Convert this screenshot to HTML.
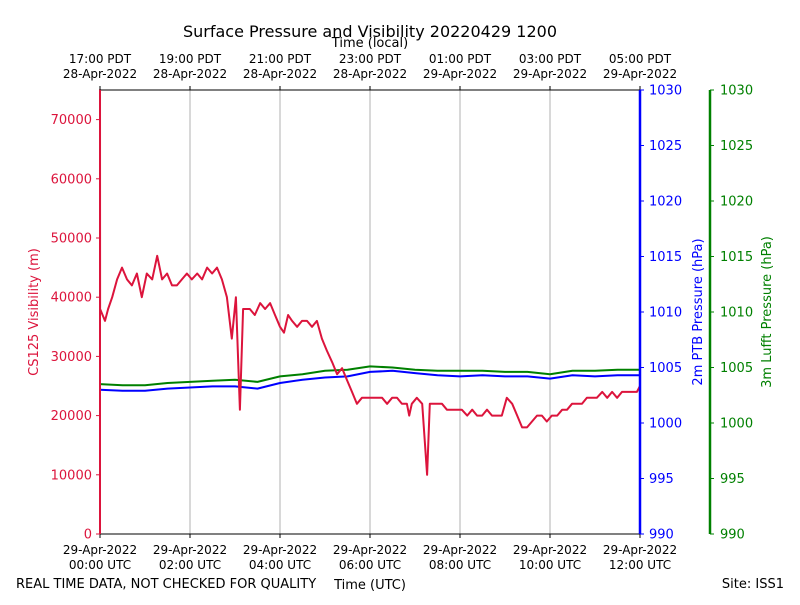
<!DOCTYPE html>
<html><head><meta charset="utf-8"><style>
body{margin:0;background:#fff;}
svg text{font-family:"DejaVu Sans","Liberation Sans",sans-serif;}
</style></head><body>
<svg id="chart" width="800" height="600" xmlns="http://www.w3.org/2000/svg">
<rect width="800" height="600" fill="#fff"/>
<g id="grid"></g><g id="series"></g><g id="axes"></g>
<text x="370" y="37" font-size="16" text-anchor="middle">Surface Pressure and Visibility 20220429 1200</text>
<text x="370" y="47" font-size="13" text-anchor="middle">Time (local)</text>
<text x="370" y="589" font-size="13" text-anchor="middle">Time (UTC)</text>
<text x="16" y="588" font-size="13">REAL TIME DATA, NOT CHECKED FOR QUALITY</text>
<text x="784" y="588" font-size="13" text-anchor="end">Site: ISS1</text>
<text transform="translate(38,312) rotate(-90)" font-size="13" fill="#dc143c" text-anchor="middle">CS125 Visibility (m)</text>
<text transform="translate(702,312) rotate(-90)" font-size="13" fill="blue" text-anchor="middle">2m PTB Pressure (hPa)</text>
<text transform="translate(771,312) rotate(-90)" font-size="13" fill="green" text-anchor="middle">3m Lufft Pressure (hPa)</text>
</svg>
<script>
const visHours=[0,0.001,0.002,0.11,0.18,0.27,0.38,0.49,0.6,0.71,0.82,0.93,1.04,1.16,1.27,1.38,1.49,1.6,1.71,1.82,1.93,2.04,2.16,2.27,2.38,2.49,2.6,2.71,2.82,2.93,3.02,3.11,3.18,3.33,3.44,3.56,3.67,3.78,3.89,4.0,4.09,4.18,4.27,4.38,4.49,4.6,4.71,4.82,4.93,5.04,5.16,5.27,5.38,5.49,5.6,5.71,5.82,5.93,6.04,6.16,6.27,6.38,6.49,6.6,6.71,6.82,6.87,6.93,7.04,7.16,7.27,7.33,7.49,7.6,7.71,7.82,7.93,8.04,8.16,8.27,8.38,8.49,8.6,8.71,8.82,8.93,9.04,9.16,9.27,9.38,9.49,9.6,9.71,9.82,9.93,10.04,10.16,10.27,10.38,10.49,10.6,10.71,10.82,10.93,11.04,11.16,11.27,11.38,11.49,11.6,11.71,11.82,11.93,12.0];
const visValues=[0,75000,38000,36000,38000,40000,43000,45000,43000,42000,44000,40000,44000,43000,47000,43000,44000,42000,42000,43000,44000,43000,44000,43000,45000,44000,45000,43000,40000,33000,40000,21000,38000,38000,37000,39000,38000,39000,37000,35000,34000,37000,36000,35000,36000,36000,35000,36000,33000,31000,29000,27000,28000,26000,24000,22000,23000,23000,23000,23000,23000,22000,23000,23000,22000,22000,20000,22000,23000,22000,10000,22000,22000,22000,21000,21000,21000,21000,20000,21000,20000,20000,21000,20000,20000,20000,23000,22000,20000,18000,18000,19000,20000,20000,19000,20000,20000,21000,21000,22000,22000,22000,23000,23000,23000,24000,23000,24000,23000,24000,24000,24000,24000,25000];
const presHours=[0,0.5,1,1.5,2,2.5,3,3.5,4,4.5,5,5.5,6,6.5,7,7.5,8,8.5,9,9.5,10,10.5,11,11.5,12];
const ptbValues=[1003.0,1002.9,1002.9,1003.1,1003.2,1003.3,1003.3,1003.1,1003.6,1003.9,1004.1,1004.2,1004.6,1004.7,1004.5,1004.3,1004.2,1004.3,1004.2,1004.2,1004.0,1004.3,1004.2,1004.3,1004.3];
const lufftValues=[1003.5,1003.4,1003.4,1003.6,1003.7,1003.8,1003.9,1003.7,1004.2,1004.4,1004.7,1004.8,1005.1,1005.0,1004.8,1004.7,1004.7,1004.7,1004.6,1004.6,1004.4,1004.7,1004.7,1004.8,1004.8];
const visTicks=[0,10000,20000,30000,40000,50000,60000,70000];
const presTicks=[990,995,1000,1005,1010,1015,1020,1025,1030];
const utcTicks=[0,2,4,6,8,10,12];
const utcLabels=[["29-Apr-2022","00:00 UTC"],["29-Apr-2022","02:00 UTC"],["29-Apr-2022","04:00 UTC"],["29-Apr-2022","06:00 UTC"],["29-Apr-2022","08:00 UTC"],["29-Apr-2022","10:00 UTC"],["29-Apr-2022","12:00 UTC"]];
const localLabels=[["17:00 PDT","28-Apr-2022"],["19:00 PDT","28-Apr-2022"],["21:00 PDT","28-Apr-2022"],["23:00 PDT","28-Apr-2022"],["01:00 PDT","29-Apr-2022"],["03:00 PDT","29-Apr-2022"],["05:00 PDT","29-Apr-2022"]];

const L=100,R=640,T=90,B=534;
const x=h=>L+(R-L)*h/12;
const yV=v=>B-(B-T)*v/75000;
const yP=p=>B-(B-T)*(p-990)/40;
const NS="http://www.w3.org/2000/svg";
function mk(tag,attrs,parent){const e=document.createElementNS(NS,tag);for(const k in attrs)e.setAttribute(k,attrs[k]);parent.appendChild(e);return e;}
const grid=document.getElementById('grid'),series=document.getElementById('series'),axes=document.getElementById('axes');
utcTicks.forEach((h,i)=>{
  if(i>0&&i<utcTicks.length-1){const g=mk('line',{x1:x(h),x2:x(h),y1:T,y2:B,stroke:'#b0b0b0','stroke-width':1},grid);
  
  }
  mk('line',{x1:x(h),x2:x(h),y1:B,y2:B+4,stroke:'#000'},axes);
  mk('line',{x1:x(h),x2:x(h),y1:T,y2:T-4,stroke:'#000'},axes);
  const t1=mk('text',{x:x(h),y:554,'font-size':12,'text-anchor':'middle'},axes);t1.textContent=utcLabels[i][0];
  
  
  const t2=mk('text',{x:x(h),y:569,'font-size':12,'text-anchor':'middle'},axes);t2.textContent=utcLabels[i][1];
  
  
  const t3=mk('text',{x:x(h),y:63,'font-size':12,'text-anchor':'middle'},axes);t3.textContent=localLabels[i][0];
  
  
  const t4=mk('text',{x:x(h),y:78,'font-size':12,'text-anchor':'middle'},axes);t4.textContent=localLabels[i][1];
  
  
});
function line(hs,vs,fy,color,name){
  const d=hs.map((h,i)=>(i?'L':'M')+x(h).toFixed(1)+','+fy(vs[i]).toFixed(1)).join('');
  const p=mk('path',{d:d,fill:'none',stroke:color,'stroke-width':2,'stroke-linejoin':'round'},series);
  
  
}
line(presHours,lufftValues,yP,'green','lufft-pressure-line');
line(presHours,ptbValues,yP,'blue','ptb-pressure-line');
line(visHours,visValues,yV,'#dc143c','visibility-line');
mk('rect',{x:L,y:T,width:R-L,height:B-T,fill:'none',stroke:'#000','stroke-width':1},axes);
mk('line',{x1:L,x2:L,y1:T,y2:B,stroke:'#dc143c','stroke-width':2},axes);
mk('line',{x1:R,x2:R,y1:T,y2:B,stroke:'blue','stroke-width':2.5},axes);
mk('line',{x1:710,x2:710,y1:T,y2:B,stroke:'green','stroke-width':2.5},axes);
visTicks.forEach(v=>{
  mk('line',{x1:L-4,x2:L,y1:yV(v),y2:yV(v),stroke:'#dc143c'},axes);
  const t=mk('text',{x:L-8,y:yV(v)+4.5,'font-size':13,'text-anchor':'end',fill:'#dc143c'},axes);t.textContent=v;
  
  
});
presTicks.forEach(p=>{
  mk('line',{x1:R,x2:R+4,y1:yP(p),y2:yP(p),stroke:'blue'},axes);
  const t=mk('text',{x:R+9,y:yP(p)+4.5,'font-size':13,fill:'blue'},axes);t.textContent=p;
  
  
  mk('line',{x1:710,x2:714,y1:yP(p),y2:yP(p),stroke:'green'},axes);
  const t2=mk('text',{x:720,y:yP(p)+4.5,'font-size':13,fill:'green'},axes);t2.textContent=p;
  
  
});
</script>
</body></html>
